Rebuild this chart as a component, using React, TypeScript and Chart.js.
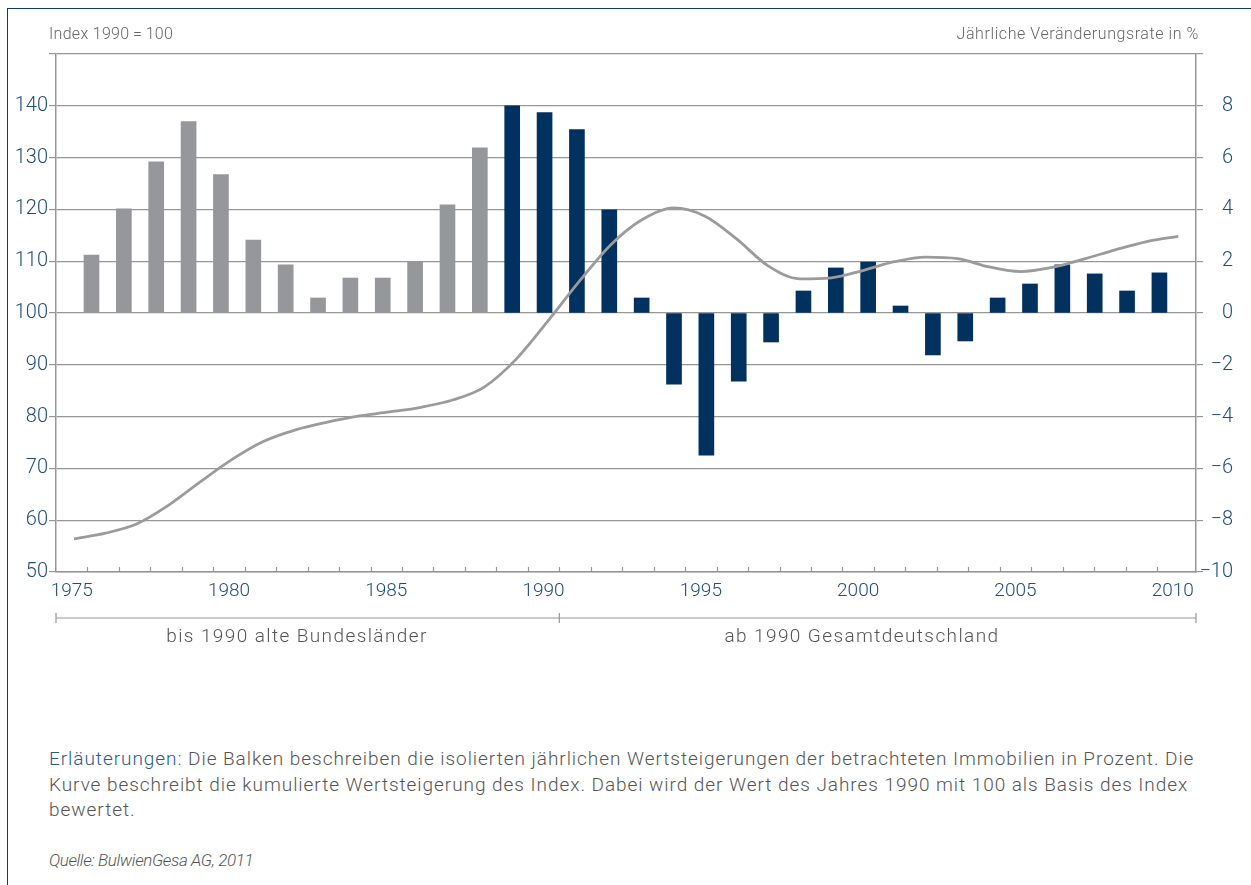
import React, { useEffect, useRef } from 'react';
import { Chart, registerables } from 'chart.js';

Chart.register(...registerables);

// ---- data ----
const barYears = [1977, 1978, 1979, 1980, 1981, 1982, 1983, 1984, 1985, 1986, 1987, 1988, 1989,
  1990, 1991, 1992, 1993, 1994, 1995, 1996, 1997, 1998, 1999, 2000, 2001, 2002, 2003, 2004, 2005,
  2006, 2007, 2008, 2009, 2010];
const barValues = [2.24, 4.02, 5.84, 7.39, 5.34, 2.82, 1.86, 0.58, 1.35, 1.35, 1.98, 4.18, 6.38,
  8.0, 7.74, 7.08, 3.98, 0.58, -2.75, -5.49, -2.63, -1.12, 0.85, 1.74, 1.97, 0.27, -1.62, -1.08,
  0.58, 1.12, 1.86, 1.51, 0.85, 1.55];
const unificationYear = 1990;

const indexYears = [1975, 1976, 1977, 1978, 1979, 1980, 1981, 1982, 1983, 1984, 1985, 1986, 1987,
  1988, 1989, 1990, 1991, 1992, 1993, 1994, 1995, 1996, 1997, 1998, 1999, 2000, 2001, 2002, 2003,
  2004, 2005, 2006, 2007, 2008, 2009, 2010];
const indexValues = [56.4, 57.5, 59.3, 62.9, 67.4, 71.7, 75.2, 77.4, 78.9, 80.1, 80.9, 81.8, 83.2,
  85.7, 91.0, 98.3, 106.0, 113.1, 118.0, 120.3, 118.7, 114.3, 109.1, 106.6, 106.8, 108.2, 109.9,
  110.8, 110.5, 108.9, 108.0, 108.8, 110.4, 112.2, 113.8, 114.8];

const xLabelYears = [1975, 1980, 1985, 1990, 1995, 2000, 2005, 2010];
const xTickYears = [1976, 1977, 1978, 1979, 1980, 1981, 1982, 1983, 1984, 1985, 1986, 1987, 1988,
  1989, 1990, 1991, 1992, 1993, 1994, 1995, 1996, 1997, 1998, 1999, 2000, 2001, 2002, 2003, 2004,
  2005, 2006, 2007, 2008, 2009, 2010];
const bracketYears = [1975, 1991];

const leftTitle = 'Index 1990\u2009=\u2009100';
const rightTitle = 'Jährliche Veränderungsrate in %';
const periodLabels = ['bis 1990 alte Bundesländer', 'ab 1990 Gesamtdeutschland'];
const noteLines = [
  'Die Balken beschreiben die isolierten jährlichen Wertsteigerungen der betrachteten Immobilien in Prozent. Die',
  'Kurve beschreibt die kumulierte Wertsteigerung des Index. Dabei wird der Wert des Jahres 1990 mit 100 als Basis des Index',
  'bewertet.',
];
const source = 'Quelle: BulwienGesa AG, 2011';

// ---- styles ----
const GREY_BAR = '#96979a';
const NAVY_BAR = '#00315f';
const GRID = '#979797';
const TICK_TEXT = '#1f4d7c';
const LINE = '#9b9b9b';
const FONT = 'Roboto';

const W = 1251;
const H = 660;

const fmt = (v: number) => (v < 0 ? '\u2212' + Math.abs(v) : String(v));

const decorPlugin = {
  id: 'decor',
  afterDraw(chart: any) {
    const ctx = chart.ctx;
    const x = chart.scales.x;
    const bottom = chart.chartArea.bottom;
    ctx.save();
    ctx.strokeStyle = GRID;
    ctx.lineWidth = 1.2;
    // inward tick marks
    ctx.beginPath();
    xTickYears.forEach((yr) => {
      const px = Math.round(x.getPixelForValue(yr)) + 0.5;
      ctx.moveTo(px, bottom);
      ctx.lineTo(px, bottom - 5);
    });
    ctx.stroke();
    // bracket
    const yb = bottom + 46;
    const xa = x.getPixelForValue(bracketYears[0]);
    const xm = x.getPixelForValue(bracketYears[1]);
    const xe = chart.chartArea.right;
    ctx.beginPath();
    ctx.moveTo(xa, yb);
    ctx.lineTo(xe, yb);
    [xa, xm, xe].forEach((px) => {
      ctx.moveTo(px, yb - 5);
      ctx.lineTo(px, yb + 5);
    });
    ctx.stroke();
    ctx.restore();
  },
};

export default function App() {
  const ref = useRef<HTMLCanvasElement | null>(null);

  useEffect(() => {
    if (!ref.current) return;
    const chart = new Chart(ref.current, {
      data: {
        datasets: [
          {
            type: 'line',
            data: indexYears.map((yr, i) => ({ x: yr, y: indexValues[i] })),
            xAxisID: 'xl',
            yAxisID: 'y',
            borderColor: LINE,
            borderWidth: 2.8,
            pointRadius: 0,
            cubicInterpolationMode: 'monotone',
            order: 0,
          } as any,
          {
            type: 'bar',
            data: barYears.map((yr, i) => ({ x: yr, y: barValues[i] })),
            xAxisID: 'xb',
            yAxisID: 'y1',
            backgroundColor: barYears.map((yr) => (yr < unificationYear ? GREY_BAR : NAVY_BAR)),
            grouped: false,
            barPercentage: 1,
            categoryPercentage: 1,
            maxBarThickness: 15,
            borderWidth: 0,
            order: 1,
          } as any,
        ],
      },
      options: {
        responsive: false,
        animation: false,
        events: [],
        layout: { padding: { top: 54, left: 0, right: 18, bottom: 0 } },
        plugins: { legend: { display: false }, tooltip: { enabled: false } },
        scales: {
          x: {
            type: 'linear',
            position: 'bottom',
            min: 1975,
            max: 2011.24,
            afterBuildTicks: (s: any) => {
              s.ticks = xLabelYears.map((yr) => ({ value: yr + 0.5 }));
            },
            afterFit: (s: any) => {
              s.height = 88;
            },
            grid: { display: false, drawTicks: false },
            border: { display: true, color: GRID, width: 1.5 },
            ticks: {
              autoSkip: false,
              maxRotation: 0,
              padding: 8,
              color: TICK_TEXT,
              font: { family: FONT, size: 19, weight: '300' },
              callback: (v: any) => String(Math.floor(Number(v))),
            },
          },
          xb: {
            type: 'linear',
            display: false,
            offset: false,
            min: 1975.903,
            max: 2011.13,
          },
          xl: {
            type: 'linear',
            display: false,
            offset: false,
            min: 1974.43,
            max: 2010.56,
          },
          y: {
            type: 'linear',
            position: 'left',
            min: 50,
            max: 150,
            afterFit: (s: any) => {
              s.width = 56;
            },
            ticks: {
              stepSize: 10,
              padding: 1,
              color: TICK_TEXT,
              font: { family: FONT, size: 20, weight: '300' },
              callback: (v: any) => (Number(v) >= 150 ? '' : String(v)),
            },
            grid: { color: GRID, lineWidth: 1.2, tickLength: 7, tickColor: GRID },
            border: { display: true, color: GRID, width: 1.5 },
          },
          y1: {
            type: 'linear',
            position: 'right',
            min: -10,
            max: 10,
            afterFit: (s: any) => {
              s.width = 37;
            },
            ticks: {
              stepSize: 2,
              padding: 0,
              crossAlign: 'far',
              color: TICK_TEXT,
              font: { family: FONT, size: 20, weight: '300' },
              callback: (v: any) => (Number(v) >= 10 ? '' : fmt(Number(v))),
            },
            grid: { drawOnChartArea: false, color: GRID, lineWidth: 1.2, tickLength: 7, tickColor: GRID },
            border: { display: true, color: GRID, width: 1.5 },
          },
        },
      } as any,
      plugins: [decorPlugin],
    });
    return () => chart.destroy();
  }, []);

  const txt: React.CSSProperties = {
    position: 'absolute',
    whiteSpace: 'nowrap',
    fontFamily: FONT,
    fontWeight: 300,
  };

  return (
    <div
      style={{
        position: 'fixed',
        left: 0,
        top: 0,
        width: W,
        height: 885,
        background: '#fff',
        overflow: 'hidden',
      }}
    >
      <div
        style={{
          position: 'absolute',
          left: 7,
          top: 8,
          right: -5,
          bottom: -5,
          borderLeft: '1px solid #0f3b66',
          borderTop: '1px solid #0f3b66',
        }}
      />
      <canvas ref={ref} width={W} height={H} style={{ position: 'absolute', left: 0, top: 0, width: W, height: H }} />
      <div style={{ ...txt, left: 49, top: 24, fontSize: 16, letterSpacing: 0.3, lineHeight: '20px', color: '#666' }}>{leftTitle}</div>
      <div style={{ ...txt, right: W - 1199, top: 24, fontSize: 16, letterSpacing: 0.58, lineHeight: '20px', color: '#666', textAlign: 'right' }}>
        {rightTitle}
      </div>
      <div style={{ ...txt, left: 297 - 200, width: 400, top: 624, fontSize: 19, letterSpacing: 1.4, lineHeight: '24px', color: '#555', textAlign: 'center' }}>
        {periodLabels[0]}
      </div>
      <div style={{ ...txt, left: 862 - 200, width: 400, top: 624, fontSize: 19, letterSpacing: 1.4, lineHeight: '24px', color: '#555', textAlign: 'center' }}>
        {periodLabels[1]}
      </div>
      <div style={{ ...txt, left: 49, top: 746, fontSize: 19, letterSpacing: 0.95, lineHeight: '25.5px', color: '#555' }}>
        <span style={{ color: '#2a5b8c' }}>Erläuterungen:</span> {noteLines[0]}
        <br />
        {noteLines[1]}
        <br />
        {noteLines[2]}
      </div>
      <div style={{ ...txt, left: 49, top: 848, fontSize: 17, letterSpacing: -0.4, lineHeight: '24px', color: '#555', fontStyle: 'italic' }}>
        {source}
      </div>
    </div>
  );
}
